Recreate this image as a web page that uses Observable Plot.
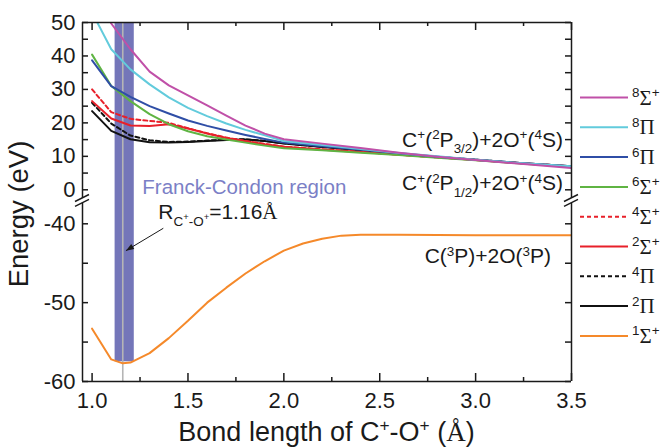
<!DOCTYPE html>
<html><head><meta charset="utf-8">
<script src="https://cdn.jsdelivr.net/npm/d3@7"></script>
<script src="https://cdn.jsdelivr.net/npm/@observablehq/plot@0.6"></script>
<style>
body{margin:0;background:#fff;}
#chart svg{display:block;}
</style></head><body><div id="chart"></div>
<script>
// ---------- data ----------
const bondLength = [1.0,1.1,1.2,1.3,1.4,1.5,1.6,1.7,1.8,1.9,2.0,2.2,2.4,2.6,2.8,3.0,3.25,3.5];
const sigma8 = [60,49.7,42.0,35.3,31.2,28.2,25.2,22.2,19.2,16.8,15.1,13.8,12.5,11.1,9.9,8.9,7.7,6.5];
const pi8    = [53,42.0,36.0,31.5,27.6,24.5,22.0,19.8,17.9,16.3,14.6,13.4,12.2,11.0,10.0,9.0,7.9,7.0];
const pi6    = [38.7,31.0,27.8,25.0,22.8,20.7,19.1,17.7,16.4,15.2,14.1,13.0,12.0,10.9,9.9,9.0,7.9,7.0];
const sigma6 = [40.4,31.0,26.5,22.6,19.6,17.5,16.0,15.0,14.1,13.2,12.4,11.8,11.1,10.4,9.6,8.8,7.8,6.9];
const sigma4 = [30.0,23.2,21.2,20.6,20.0,18.4,16.9,15.6,14.6,13.7,12.9,12.1,11.3,10.5,9.7,8.9,7.9,7.0];
const sigma2 = [26.5,21.3,19.2,19.1,19.6,18.3,16.8,15.5,14.5,13.6,12.9,12.0,11.3,10.5,9.7,8.9,7.9,7.0];
const pi4    = [26.0,19.8,16.2,14.8,14.3,14.4,14.7,15.0,15.1,14.6,13.9,12.9,11.9,10.8,9.8,9.0,7.9,7.0];
const pi2    = [23.5,17.6,15.1,14.2,14.1,14.3,14.6,14.9,15.0,14.6,13.8,12.8,11.8,10.8,9.8,9.0,7.9,7.0];
const bondLengthGround = [1.0,1.1,1.16,1.2,1.3,1.4,1.5,1.6,1.7,1.8,1.9,2.0,2.1,2.2,2.3,2.4,2.6,3.0,3.5];
const sigma1 = [-53.3,-57.2,-57.7,-57.6,-56.4,-54.5,-52.3,-50.0,-48.1,-46.3,-44.75,-43.4,-42.5,-41.9,-41.5,-41.4,-41.4,-41.45,-41.45];

const stateMultiplicity = ["8","8","6","6","4","2","4","2","1"];
const stateSymbol       = ["Σ","Π","Π","Σ","Σ","Σ","Π","Π","Σ"];
const stateSign         = ["+","","","+","+","+","","","+"];
const stateValues = [sigma8, pi8, pi6, sigma6, sigma4, sigma2, pi4, pi2, sigma1];

const franckCondon = [1.12, 1.22];      // bond-length range (Å)
const franckCondonEnergy = [-57.5, 50]; // energy extent of band (eV)
const equilibrium = 1.16;

const xMajor = [1.0,1.5,2.0,2.5,3.0,3.5];
const xMinor = [1.25,1.75,2.25,2.75,3.25];
const yLabels = [50,40,30,20,10,0,-40,-50,-60];
const yTicks = [0,5,10,15,20,25,30,35,40,45,50,-60,-55,-50,-45,-40];

// ---------- styles ----------
const colors = ["#c050a8","#62cbdc","#2f4ea6","#5fb443","#e8202a","#e8202a","#111","#111","#f5892a"];
const dashes = [null,null,null,null,"4,3",null,"4,3",null,null];

// ---------- layout ----------
const W = 661, H = 447;
const mL = 82, mR = 90, mT = 22, mB = 66;
const plotW = W - mL - mR, plotH = H - mT - mB;
const yTop = 50, yBot = -60;
const gapLow = -37.4, gapHigh = -2.6;   // broken axis: values between are squeezed
const topSlope = 3.346;                 // px per eV, upper panel
const botSlope = 7.885;                 // px per eV, lower panel
const gapPx = 4.8;
// broken-axis position (continuous, linear in display units)
function yPos(v) {
  if (v >= gapHigh) return v * topSlope;
  const uHigh = gapHigh * topSlope, uLow = uHigh - gapPx;
  if (v <= gapLow) return uLow - (gapLow - v) * botSlope;
  return uLow + (v - gapLow) / (gapHigh - gapLow) * gapPx;
}
const labelOf = new Map(yLabels.map(v => [yPos(v), v < 0 ? "-" + Math.abs(v) : String(v)]));

const fontSans = "Liberation Sans, Arial, Helvetica, sans-serif";
const fontSerif = "Liberation Serif, Times New Roman, serif";
const ink = "#1a1a1a";

const marks = [
  Plot.rect([franckCondon], {x1: d => d[0], x2: d => d[1], y1: yPos(franckCondonEnergy[0]), y2: yPos(franckCondonEnergy[1]), fill: "#7476b9"}),
  Plot.ruleX([equilibrium], {y1: yPos(yBot), y2: yPos(yTop), stroke: "#b5b5b5", strokeWidth: 1.6}),
];
for (let i = stateValues.length - 1; i >= 0; i--) {
  const xs = i === 8 ? bondLengthGround : bondLength;
  const rows = stateValues[i].map((v, j) => ({x: xs[j], y: yPos(v)}));
  marks.push(Plot.line(rows, {x: "x", y: "y", stroke: colors[i], strokeWidth: 2, strokeDasharray: dashes[i], clip: true}));
}
marks.push(
  // broken frame
  Plot.ruleY([yTop, yBot].map(yPos), {stroke: ink, strokeWidth: 1.5}),
  Plot.ruleX([0.95, 3.5], {y1: yPos(yBot), y2: yPos(gapLow), stroke: ink, strokeWidth: 1.5}),
  Plot.ruleX([0.95, 3.5], {y1: yPos(gapHigh), y2: yPos(yTop), stroke: ink, strokeWidth: 1.5}),
  // inward ticks
  Plot.tickY(yTicks.map(yPos), {y: d => d, insetRight: plotW - 6, stroke: ink, strokeWidth: 1.5}),
  Plot.tickY(yTicks.map(yPos), {y: d => d, insetLeft: plotW - 6, stroke: ink, strokeWidth: 1.5}),
  Plot.tickX(xMajor, {x: d => d, insetTop: plotH - 8, stroke: ink, strokeWidth: 1.5}),
  Plot.tickX(xMajor, {x: d => d, insetBottom: plotH - 8, stroke: ink, strokeWidth: 1.5}),
  Plot.tickX(xMinor, {x: d => d, insetTop: plotH - 4, stroke: ink, strokeWidth: 1.5}),
  Plot.tickX(xMinor, {x: d => d, insetBottom: plotH - 4, stroke: ink, strokeWidth: 1.5}),
  Plot.axisX(xMajor, {anchor: "bottom", tickSize: 0, tickPadding: 11, fontSize: 22, tickFormat: d3.format(".1f"), label: null, fill: ink}),
  Plot.axisY(yLabels.map(yPos), {anchor: "left", tickSize: 0, tickPadding: 7, fontSize: 22, tickFormat: d => labelOf.get(d), label: null, fill: ink}),
  Plot.text(["Franck-Condon region"], {x: 1.262, y: yPos(-1.2), text: d => d, textAnchor: "start", lineAnchor: "bottom", fontSize: 20.5, fill: "#7b7fc6"})
);

const chart = Plot.plot({
  width: W, height: H,
  marginLeft: mL, marginRight: mR, marginTop: mT, marginBottom: mB,
  x: {domain: [0.95, 3.5], axis: null},
  y: {domain: [yPos(yBot), yPos(yTop)], axis: null},
  style: {fontFamily: fontSans, background: "white", overflow: "visible", color: ink},
  marks
});
document.getElementById("chart").appendChild(chart);

// ---------- annotations via the plot's own scales ----------
const sx = chart.scale("x"), sy = chart.scale("y");
const X = v => sx.apply(v), Y = v => sy.apply(yPos(v));
const svg = d3.select(chart);
const g = svg.append("g").attr("font-family", fontSans).attr("fill", ink);

function rich(parent, x, y, parts, size, anchor = "start", extra = {}) {
  const t = parent.append("text").attr("x", x).attr("y", y).attr("text-anchor", anchor).attr("font-size", size);
  for (const k in extra) t.attr(k, extra[k]);
  let cur = 0;
  for (const p of parts) {
    const [s, kind] = typeof p === "string" ? [p, "n"] : p;
    const off = kind === "sup" ? -size * 0.36 : kind === "sub" ? size * 0.3 : kind === "subsup" ? size * 0.05 : 0;
    const ts = t.append("tspan").attr("dy", off - cur).text(s);
    cur = off;
    if (kind === "sup" || kind === "sub") ts.attr("font-size", size * 0.64);
    if (kind === "subsup") ts.attr("font-size", size * 0.45);
    if (kind === "serif") ts.attr("font-family", fontSerif);
  }
  return t;
}

rich(g, X(3.458), Y(12.7), ["C", ["+","sup"], "(", ["2","sup"], "P", ["3/2","sub"], ")+2O", ["+","sup"], "(", ["4","sup"], "S)"], 21, "end");
rich(g, X(3.458), Y(-0.3), ["C", ["+","sup"], "(", ["2","sup"], "P", ["1/2","sub"], ")+2O", ["+","sup"], "(", ["4","sup"], "S)"], 21, "end");
rich(g, X(3.396), Y(-45.07), ["C(", ["3","sup"], "P)+2O(", ["3","sup"], "P)"], 21, "end");
rich(g, X(1.348), Y(-39.5), ["R", ["C","sub"], ["+","subsup"], ["-","sub"], ["O","sub"], ["+","subsup"], "=1.16", ["Å","serif"]], 21, "start");

// arrow
const ax1 = X(1.374), ay1 = Y(-40.63), ax2 = X(1.179), ay2 = Y(-43.47);
g.append("line").attr("x1", ax1).attr("y1", ay1).attr("x2", ax2).attr("y2", ay2).attr("stroke", ink).attr("stroke-width", 1);
const ang = Math.atan2(ay2 - ay1, ax2 - ax1), hl = 8, hw = 3;
g.append("path").attr("d", `M${ax2},${ay2} L${ax2 - hl*Math.cos(ang) + hw*Math.sin(ang)},${ay2 - hl*Math.sin(ang) - hw*Math.cos(ang)} L${ax2 - hl*Math.cos(ang) - hw*Math.sin(ang)},${ay2 - hl*Math.sin(ang) + hw*Math.cos(ang)} Z`).attr("fill", ink);

// axis break marks
const xl = X(0.95), xr = X(3.5);
for (const xb of [xl, xr]) for (const v of [gapHigh, gapLow]) {
  const yb = Y(v);
  g.append("line").attr("x1", xb - 7).attr("y1", yb + 3.5).attr("x2", xb + 7).attr("y2", yb - 3.5).attr("stroke", ink).attr("stroke-width", 1.5);
}

// axis titles
rich(g, (X(0.95) + X(3.5)) / 2, 441, ["Bond length of C", ["+","sup"], "-O", ["+","sup"], " (", ["Å","serif"], ")"], 27, "middle");
rich(g, 0, 0, ["Energy (eV)"], 27.5, "middle", {transform: `translate(28,214) rotate(-90)`});

// legend
const legX = 580, legTop = 97.5, legStep = 29.8;
stateValues.forEach((_, i) => {
  const yy = legTop + i * legStep;
  const ln = g.append("line").attr("x1", legX).attr("x2", legX + 48).attr("y1", yy).attr("y2", yy).attr("stroke", colors[i]).attr("stroke-width", 2);
  if (dashes[i]) ln.attr("stroke-dasharray", dashes[i]);
  const parts = [[stateMultiplicity[i], "sup"], [stateSymbol[i], "serif"]];
  if (stateSign[i]) parts.push([stateSign[i], "sup"]);
  rich(g, legX + 52, yy + 7, parts, 21, "start");
});
</script></body></html>
